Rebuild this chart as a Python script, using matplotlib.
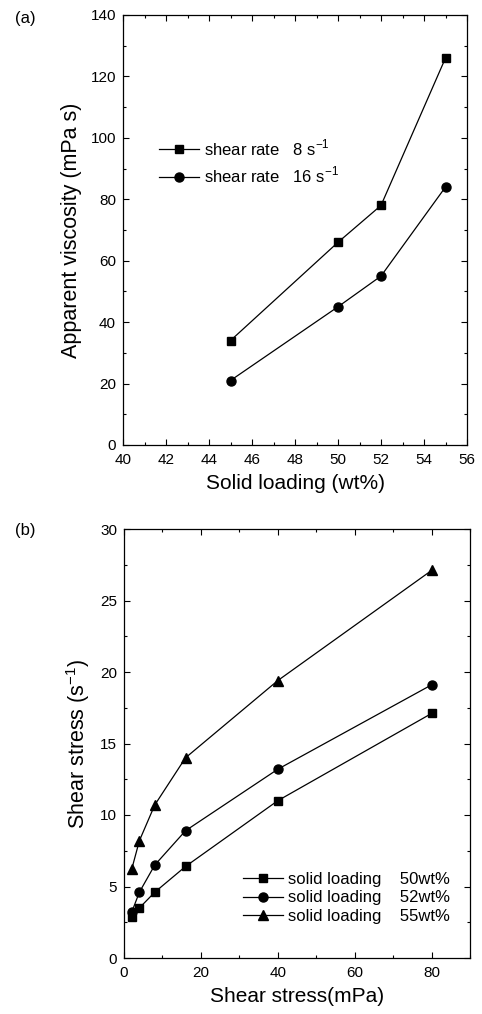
import matplotlib
matplotlib.use("Agg")
import matplotlib.pyplot as plt
from matplotlib.ticker import MultipleLocator

plt.rcParams['font.family'] = ['Liberation Sans', 'DejaVu Sans']
plt.rcParams['mathtext.fontset'] = 'custom'
plt.rcParams['mathtext.rm'] = 'Liberation Sans'

# Panel (a) data
solid_loading = [45, 50, 52, 55]
visc_8 = [34, 66, 78, 126]
visc_16 = [21, 45, 55, 84]

# Panel (b) data
shear_x = [2, 4, 8, 16, 40, 80]
stress_50 = [2.9, 3.5, 4.6, 6.4, 11.0, 17.1]
stress_52 = [3.2, 4.6, 6.5, 8.9, 13.2, 19.1]
stress_55 = [6.2, 8.2, 10.7, 14.0, 19.4, 27.1]

W, H = 482, 1014
fig = plt.figure(figsize=(W/100, H/100), dpi=100)

def ax_at(l, t, r, b):
    return fig.add_axes([l/W, 1 - b/H, (r-l)/W, (b-t)/H])

def style(ax):
    ax.tick_params(which='both', direction='in', top=True, right=True, labelsize=11, width=0.8)
    ax.tick_params(axis='x', which='major', pad=6)
    ax.tick_params(axis='y', which='major', pad=5)
    ax.tick_params(which='major', length=4)
    ax.tick_params(which='minor', length=2.5)
    for s in ax.spines.values():
        s.set_linewidth(0.9)

ax1 = ax_at(123, 15, 467, 445)
ax1.plot(solid_loading, visc_8, '-s', color='black', lw=0.9, ms=6, label=r'shear rate   8 s$^{-1}$')
ax1.plot(solid_loading, visc_16, '-o', color='black', lw=0.9, ms=6.5, label=r'shear rate   16 s$^{-1}$')
ax1.set_xlim(40, 56)
ax1.set_ylim(0, 140)
ax1.xaxis.set_major_locator(MultipleLocator(2))
ax1.xaxis.set_minor_locator(MultipleLocator(1))
ax1.yaxis.set_major_locator(MultipleLocator(20))
ax1.yaxis.set_minor_locator(MultipleLocator(10))
style(ax1)
ax1.set_xlabel('Solid loading (wt%)', fontsize=15, labelpad=5)
ax1.set_ylabel('Apparent viscosity (mPa s)', fontsize=15.5, labelpad=6)
ax1.legend(loc='upper left', bbox_to_anchor=(0.06, 0.75), frameon=False, fontsize=12,
           handlelength=2.4, handletextpad=0.3, labelspacing=0.4)
fig.text(15/W, 1 - 18/H, '(a)', fontsize=12, va='center', ha='left')

ax2 = ax_at(124, 529, 470, 958)
ax2.plot(shear_x, stress_50, '-s', color='black', lw=0.9, ms=6, label='solid loading    50wt%')
ax2.plot(shear_x, stress_52, '-o', color='black', lw=0.9, ms=6.5, label='solid loading    52wt%')
ax2.plot(shear_x, stress_55, '-^', color='black', lw=0.9, ms=7, label='solid loading    55wt%')
ax2.set_xlim(0, 90)
ax2.set_ylim(0, 30)
ax2.xaxis.set_major_locator(MultipleLocator(20))
ax2.xaxis.set_minor_locator(MultipleLocator(10))
ax2.yaxis.set_major_locator(MultipleLocator(5))
ax2.yaxis.set_minor_locator(MultipleLocator(2.5))
style(ax2)
ax2.set_xlabel('Shear stress(mPa)', fontsize=15, labelpad=5)
ax2.set_ylabel(r'Shear stress (s$^{-1}$)', fontsize=15.5, labelpad=6)
ax2.legend(loc='lower right', bbox_to_anchor=(0.985, 0.045), frameon=False, fontsize=12,
           handlelength=2.4, handletextpad=0.3, labelspacing=0.2)
fig.text(15/W, 1 - 530/H, '(b)', fontsize=12, va='center', ha='left')

fig.savefig('out.png', dpi=100, facecolor='white')
